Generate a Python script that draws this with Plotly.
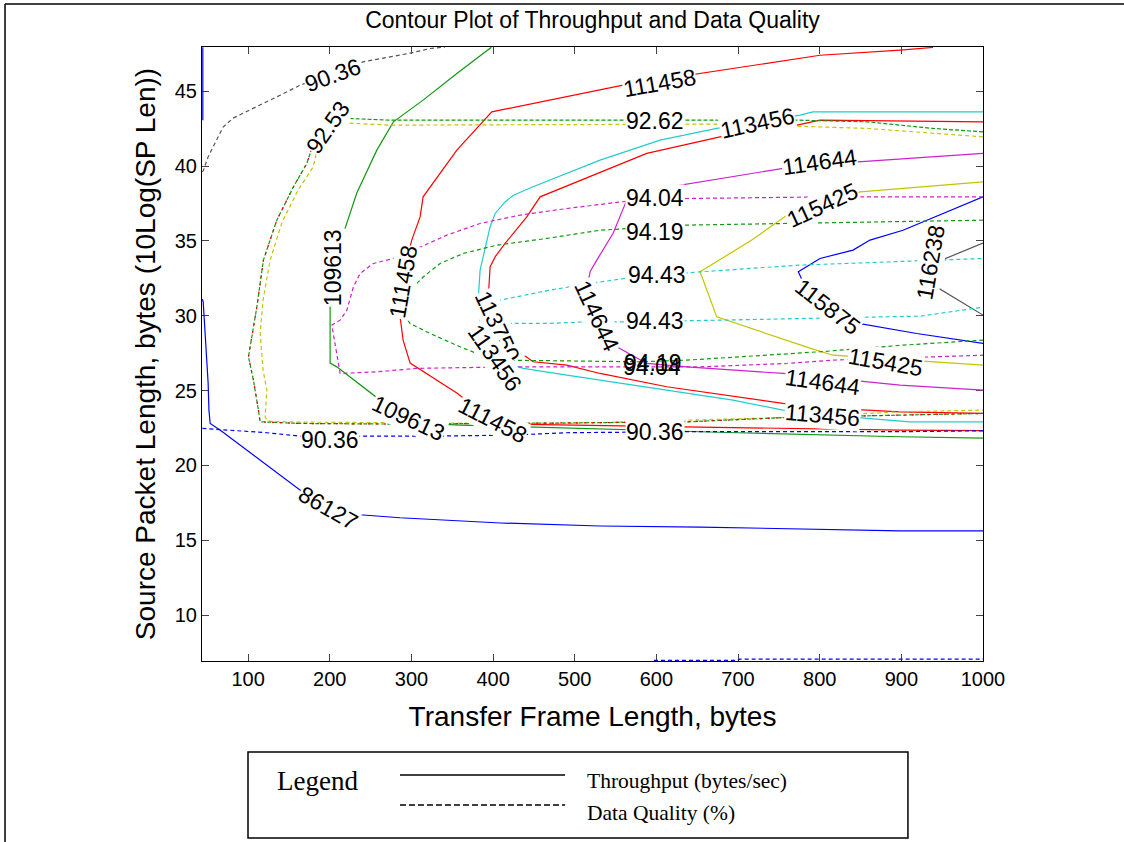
import plotly.graph_objects as go

# ---- Throughput contours (solid) ----
x_86127 = [44.5, 44.5, None, 44, 45, 46, 49, 51, 52, 53.5, 66, 99, 172, 237, 286, 409, 531, 654, 776, 898, 1000]
y_86127 = [47.94, 43.06, None, 31.1, 30.9, 30.0, 27.7, 25.5, 23.7, 22.8, 22.35, 21.0, 18.0, 16.7, 16.5, 16.15, 15.95, 15.88, 15.75, 15.62, 15.62]

x_109613 = [398, 355.6, 314.3, 277.9, 257.6, 233.1, 216.7, 200.4, 200.4, 208.6, 261.6, 335, 359.6, 498, 698.8, 898.4, 1000]
y_109613 = [47.94, 46.18, 44.4, 42.95, 41.06, 38.19, 35.5, 30.84, 26.83, 26.58, 24.36, 22.75, 22.69, 22.47, 22.18, 21.91, 21.82]

x_111458 = [938.8, 898.4, 800.4, 649.8, 559.2, 408.6, 398.4, 355.6, 322.9, 314.3, 310.6, 300.4, 289.8, 286.1,
            289.8, 298.4, 355.6, 387.8, 420.8, 498, 698.8, 898.4, 1000]
y_111458 = [47.92, 47.74, 47.4, 46.18, 45.4, 43.73, 43.62, 41.06, 38.61, 37.94, 36.6, 35.05, 32.84, 29.92,
            28.37, 26.83, 24.83, 23.49, 22.76, 22.69, 22.49, 22.35, 22.32]

x_113456 = [1000, 791.8, 775.9, 673.9, 604.5, 531, 449, 424.9, 414.7, 402.5, 396.3, 390.2, 384.1, 382,
            384.1, 388.1, 396.3, 408.6, 437.1, 490.3, 583.7, 693.9, 755.1, 858, 910.6, 1000]
y_113456 = [43.62, 43.62, 43.4, 42.51, 41.73, 40.39, 38.61, 38.05, 37.6, 36.83, 35.93, 34.38, 33.04, 31.26,
            29.7, 28.59, 27.5, 26.92, 26.48, 26.03, 25.25, 24.36, 23.69, 23.14, 22.91, 22.91]

x_113750 = [1000, 800.4, 772.3, 678, 588.2, 457.6, 441.3, 414.7, 402.5, 396.3, 394.2, 429, 449, 490.3,
            531, 612.7, 755.1, 816.3, 858, 898.4, 1000]
y_113750 = [42.95, 43.06, 42.73, 41.95, 40.84, 37.94, 36.6, 34.83, 33.93, 33.26, 31.26, 27.7, 26.92, 26.7,
            26.14, 25.25, 24.14, 23.8, 23.69, 23.58, 23.47]

x_114644 = [1000, 898.4, 846.9, 755.1, 653.5, 592.2, 563.7, 547, 527, 518.8, 516.3, 551.5, 588.2, 637.2,
            755.1, 858, 898.4, 1000]
y_114644 = [40.84, 40.5, 40.28, 39.84, 38.94, 38.39, 37.72, 35.51, 33.71, 32.93, 32.17, 27.92, 26.81, 26.58,
            26.14, 25.58, 25.36, 25.03]

x_115425 = [1000, 849.4, 765.8, 716.8, 653.5, 673.9, 788.2, 816.3, 968.2, 1000]
y_115425 = [38.94, 38.27, 36.94, 35.05, 32.93, 29.92, 27.83, 27.36, 26.81, 26.7]

x_115875 = [1000, 902, 861.6, 840.8, 800.4, 773.8, 796.4, 837.1, 918.8, 1000]
y_115875 = [37.94, 35.71, 35.05, 34.38, 33.82, 32.93, 30.26, 29.59, 28.81, 28.15]

x_116238 = [1000, 943.3, 943.3, 1000]
y_116238 = [34.85, 33.58, 31.91, 30.04]

# ---- Data quality contours (dashed) ----
x_9036_top = [44, 45.3, 51, 69.4, 81.6, 110.7, 139.2, 163.7, 240.8, 298.4, 322.9, 341]
y_9036_top = [39.6, 39.72, 40.61, 42.6, 43.2, 43.95, 44.73, 45.4, 46.96, 47.54, 47.85, 47.94]

x_9036_mid = [44, 122.9, 163.7, 322.9, 420.8, 490.3, 637.6, 898.4, 1000]
y_9036_mid = [22.47, 22.18, 21.95, 21.95, 22.02, 22.18, 22.25, 22.25, 22.31]

x_9036_low = [597, 699, 702, 1000]
y_9036_low = [6.97, 6.97, 7.05, 7.05]

x_9262 = [1000, 938.8, 858, 775.9, 408.6, 273.9, 220.9, 192.2, 179.9, 171.9, 155.5, 135.1, 118.7, 110.7,
          100.4, 106.5, 112.6, 114.7, 163.7, 273.9, 420.8, 580, 637.6, 760, 898.4, 1000]
y_9262 = [42.28, 42.51, 42.95, 43.06, 43.06, 43.06, 43.18, 43.06, 41.51, 40.17, 38.61, 36.38, 33.71, 30.59,
          27.25, 25.69, 23.69, 22.91, 22.8, 22.76, 22.8, 22.85, 22.91, 23.2, 23.36, 23.47]

x_9253 = [220.9, 192.2, 179.9, 171.9, 155.5, 135.1, 118.7, 110.7, 100.4, 106.5, 112.6, 114.7, 163.7, 273.9,
          420.8, 580, 637.6, 760, 898.4, 1000]
y_9253 = [43.18, 43.06, 41.51, 40.17, 38.61, 36.38, 33.71, 30.59, 27.25, 25.69, 23.69, 22.91, 22.8, 22.76,
          22.8, 22.85, 22.91, 23.2, 23.36, 23.47]

x_92_yel = [1000, 858, 693.9, 408.6, 273.9, 224.9, 200.4, 185.7, 179.6, 161.2, 141.6, 126.9, 118.3, 114.7,
            118.3, 122.9, 120.8, 124.5, 163.7, 408.6, 490.3, 637.6, 760, 898.4, 1000]
y_92_yel = [41.95, 42.51, 42.8, 42.73, 42.73, 42.86, 42.73, 41.39, 39.94, 38.39, 36.25, 33.71, 31.04, 28.84,
            26.36, 25.03, 23.24, 22.95, 22.89, 22.8, 22.8, 23.02, 23.2, 23.58, 23.69]

x_9404 = [1000, 816.3, 637.2, 563.7, 490.3, 433.1, 384.1, 343.3, 302.4, 286.1, 253.4, 237.1, 229, 220.9,
          212.7, 202.5, 212.7, 257.6, 306.6, 420.8, 653.5, 760, 816.3, 1000]
y_9404 = [37.94, 37.94, 37.83, 37.65, 37.16, 36.72, 36.16, 35.38, 34.38, 33.93, 33.49, 32.82, 31.93, 30.37,
          29.7, 29.37, 26.14, 26.25, 26.48, 26.58, 26.58, 26.81, 27.03, 27.36]

x_9419 = [1000, 637.2, 531, 465.8, 404.5, 363.6, 335.1, 314.7, 302.4, 292.2, 286.1, 298.4, 322.9, 359.6,
          380.1, 408.6, 580, 637.2, 800.4, 902, 1000]
y_9419 = [36.38, 36.05, 35.71, 35.16, 34.71, 34.16, 33.49, 32.6, 31.93, 31.26, 30.37, 29.48, 28.81, 27.92,
          27.48, 27.03, 26.92, 27.03, 27.59, 28.03, 28.37]

x_9443_up = [396.3, 408.6, 469.8, 518.8, 576, 653.5, 775.9, 1000]
y_9443_up = [30.93, 31.04, 31.71, 32.15, 32.6, 32.93, 33.38, 33.82]

x_9443_lo = [392.3, 465.8, 514.7, 563.7, 678, 922.9, 1000]
y_9443_lo = [29.48, 29.48, 29.59, 29.59, 29.7, 29.97, 30.57]

# ---- inline contour labels ----
label_text = ["90.36", "92.53", "92.62", "111458", "113456", "114644", "94.04", "115425", "94.19",
              "109613", "111458", "94.43", "116238", "113750", "114644", "94.43", "115875", "113456",
              "94.19", "94.04", "115425", "114644", "109613", "111458", "113456", "90.36", "90.36", "86127"]
label_x = [204, 198, 598, 604, 724, 800, 598, 804, 598,
           204, 290, 601, 936, 405, 527, 598, 810, 402,
           596, 595, 880, 803, 296, 399, 803, 200, 598, 198]
label_y = [46.07, 42.6, 43.0, 45.53, 42.86, 40.26, 37.85, 37.38, 35.58,
           33.18, 32.24, 32.71, 33.58, 29.3, 29.97, 29.64, 30.57, 27.16,
           26.83, 26.56, 26.9, 25.56, 23.16, 23.02, 23.36, 21.69, 22.22, 17.14]
label_angle = [-20, -55, 0, -10, -12, -8, 0, -25, 0,
               -90, -80, 0, -80, 65, 65, 0, 38, 55,
               0, 0, 10, 8, 25, 27, 5, 0, 0, 30]

x_ticks = [100, 200, 300, 400, 500, 600, 700, 800, 900, 1000]
y_ticks = [10, 15, 20, 25, 30, 35, 40, 45]

SANS = "Liberation Sans, Arial, sans-serif"
SERIF = "Liberation Serif, Times New Roman, serif"

solid = [
    (x_86127, y_86127, "#0000ff"),
    (x_109613, y_109613, "#119911"),
    (x_111458, y_111458, "#ff0000"),
    (x_113456, y_113456, "#22cccc"),
    (x_113750, y_113750, "#ff0000"),
    (x_114644, y_114644, "#cc22cc"),
    (x_115425, y_115425, "#c4c400"),
    (x_115875, y_115875, "#0000ff"),
    (x_116238, y_116238, "#555555"),
]
dashed = [
    (x_9036_top, y_9036_top, "#555555", "4px,3px"),
    (x_9036_mid, y_9036_mid, "#0000ff", "4px,3px"),
    (x_9036_low, y_9036_low, "#0000ff", "4px,3px"),
    (x_92_yel, y_92_yel, "#c4c400", "4px,3px"),
    (x_9262, y_9262, "#119911", "4px,2px"),
    (x_9253, y_9253, "#ff0000", "2px,6px"),
    (x_9404, y_9404, "#cc22cc", "4px,3px"),
    (x_9419, y_9419, "#119911", "4px,3px"),
    (x_9443_up, y_9443_up, "#22cccc", "4px,3px"),
    (x_9443_lo, y_9443_lo, "#22cccc", "4px,3px"),
]

data = []
for xs, ys, c in solid:
    data.append(go.Scatter(x=xs, y=ys, mode="lines", line=dict(color=c, width=1.2),
                           hoverinfo="skip", showlegend=False))
for xs, ys, c, d in dashed:
    data.append(go.Scatter(x=xs, y=ys, mode="lines", line=dict(color=c, width=1.2, dash=d),
                           hoverinfo="skip", showlegend=False))

annotations = []
for t, lx, ly, a in zip(label_text, label_x, label_y, label_angle):
    # the two labels that sit on top of each other keep a clear background
    bg = "rgba(0,0,0,0)" if t in ("94.19", "94.04") and ly < 30 else "white"
    annotations.append(dict(x=lx, y=ly, xref="x", yref="y", text=t, showarrow=False,
                            textangle=a, font=dict(family=SANS, size=23, color="black"),
                            bgcolor=bg, borderpad=0))

# hand-drawn legend box under the axes
annotations += [
    dict(x=0.1485, y=-0.1954, xref="paper", yref="paper", text="Legend", showarrow=False,
         xanchor="center", yanchor="middle", font=dict(family=SERIF, size=27, color="black")),
    dict(x=0.4904, y=-0.1954, xref="paper", yref="paper", text="Throughput (bytes/sec)", showarrow=False,
         xanchor="left", yanchor="middle", font=dict(family=SERIF, size=21.5, color="black")),
    dict(x=0.4904, y=-0.2476, xref="paper", yref="paper", text="Data Quality (%)", showarrow=False,
         xanchor="left", yanchor="middle", font=dict(family=SERIF, size=21.5, color="black")),
]
shapes = [
    dict(type="rect", xref="paper", yref="paper", x0=0.0589, x1=0.9039, y0=-0.2883, y1=-0.1482,
         line=dict(color="black", width=1.5)),
    dict(type="line", xref="paper", yref="paper", x0=0.2535, x1=0.4648, y0=-0.1857, y1=-0.1857,
         line=dict(color="black", width=1.5)),
    dict(type="line", xref="paper", yref="paper", x0=0.2535, x1=0.4648, y0=-0.2345, y1=-0.2345,
         line=dict(color="black", width=1.5, dash="6px,3px")),
    # outer frame of the figure
    dict(type="line", xref="paper", yref="paper", x0=-0.2522, x1=1.181, y0=1.070, y1=1.070,
         line=dict(color="black", width=1.5)),
    dict(type="line", xref="paper", yref="paper", x0=-0.2522, x1=-0.2522, y0=1.070, y1=-0.30,
         line=dict(color="black", width=1.5)),
]

layout = go.Layout(
    width=1124, height=842,
    margin=dict(l=202, r=141, t=47, b=181),
    paper_bgcolor="white", plot_bgcolor="white",
    title=dict(text="Contour Plot of Throughput and Data Quality", x=0.5, xref="paper",
               y=1 - 20 / 842, yanchor="middle", font=dict(family=SANS, size=23, color="black")),
    xaxis=dict(range=[43.5, 1000], tickvals=x_ticks, ticks="inside", ticklen=7, mirror="ticks",
               showline=True, linecolor="black", linewidth=1, showgrid=False, zeroline=False,
               layer="below traces", tickfont=dict(family=SANS, size=20, color="black"),
               title=dict(text="Transfer Frame Length, bytes", standoff=17,
                          font=dict(family=SANS, size=28, color="black"))),
    yaxis=dict(range=[6.93, 47.95], tickvals=y_ticks, ticks="inside", ticklen=7, mirror="ticks",
               showline=True, linecolor="black", linewidth=1, showgrid=False, zeroline=False,
               layer="below traces", tickfont=dict(family=SANS, size=20, color="black"),
               title=dict(text="Source Packet Length, bytes (10Log(SP Len))", standoff=10,
                          font=dict(family=SANS, size=28, color="black"))),
    annotations=annotations,
    shapes=shapes,
)

fig = go.Figure(data=data, layout=layout)
# drop the page's default body margin so the figure sits at the window's corner
fig.write_html("out.html", config={"displayModeBar": False},
               post_script="document.body.style.margin='0';")
